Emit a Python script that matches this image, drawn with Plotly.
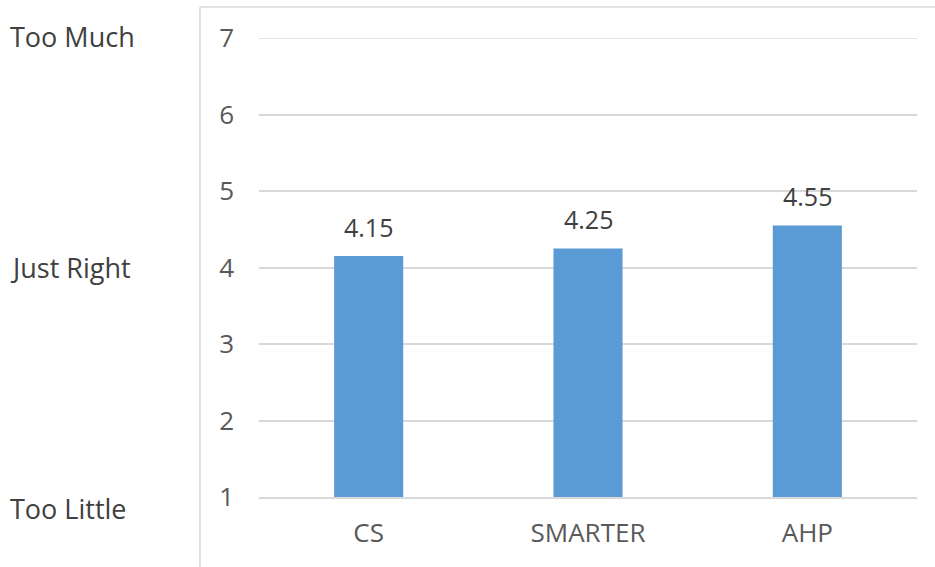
import plotly.graph_objects as go

# Survey results: perceived amount of effort per method (1 = too little, 7 = too much)
methods = ["CS", "SMARTER", "AHP"]
scores = [4.15, 4.25, 4.55]
y_ticks = [1, 2, 3, 4, 5, 6, 7]
scale_labels = ["Too Much", "Just Right", "Too Little"]
scale_positions = [7, 4, 1]

FONT = "Open Sans"
TEXT = "#595959"
GRID = "#D9D9D9"

fig = go.Figure(
    go.Bar(
        x=methods,
        y=[s - 1 for s in scores],
        base=1,
        marker=dict(color="#5B9BD5", line=dict(width=0)),
        hoverinfo="skip",
    )
)

# value labels above each bar
for m, s in zip(methods, scores):
    fig.add_annotation(
        x=m, y=s, text=f"{s:.2f}", showarrow=False,
        xref="x", yref="y", yanchor="bottom", yshift=10,
        font=dict(family=FONT, size=25, color="#404040"),
    )

# verbal anchors of the rating scale, to the left of the axis
shifts = {7: 2, 4: 0, 1: -11}
for lab, pos in zip(scale_labels, scale_positions):
    fig.add_annotation(
        x=-0.381, y=pos, text=lab, showarrow=False,
        xref="paper", yref="y", xanchor="left", yanchor="middle",
        yshift=shifts[pos],
        font=dict(family=FONT, size=27, color="#404040"),
    )

# top gridline sits on the plot edge, so draw it explicitly
fig.add_shape(type="line", xref="paper", yref="y",
              x0=0, x1=1, y0=max(y_ticks), y1=max(y_ticks),
              line=dict(color=GRID, width=1.5), layer="below")

# chart frame (left and top edges)
fig.add_shape(type="line", xref="paper", yref="paper",
              x0=-0.0897, x1=-0.0897, y0=1.0675, y1=-0.3,
              line=dict(color=GRID, width=1.5))
fig.add_shape(type="line", xref="paper", yref="paper",
              x0=-0.0897, x1=1.2, y0=1.0675, y1=1.0675,
              line=dict(color=GRID, width=1.5))

fig.update_layout(
    width=935, height=567,
    margin=dict(l=259, r=18, t=38, b=70),
    paper_bgcolor="white", plot_bgcolor="white",
    bargap=0.685,
    showlegend=False,
    font=dict(family=FONT, size=25, color=TEXT),
)
fig.update_xaxes(
    showgrid=False, showline=True, linecolor=GRID, linewidth=1.5,
    ticks="", ticklabelstandoff=12,
    tickfont=dict(family=FONT, size=26, color=TEXT),
)
fig.update_yaxes(
    range=[1, 7], tickvals=y_ticks, showgrid=True, gridcolor=GRID, gridwidth=1.5,
    zeroline=False, showline=False, ticks="", ticklabelstandoff=24,
    tickfont=dict(family=FONT, size=26, color=TEXT),
)

fig.write_html("out.html")
